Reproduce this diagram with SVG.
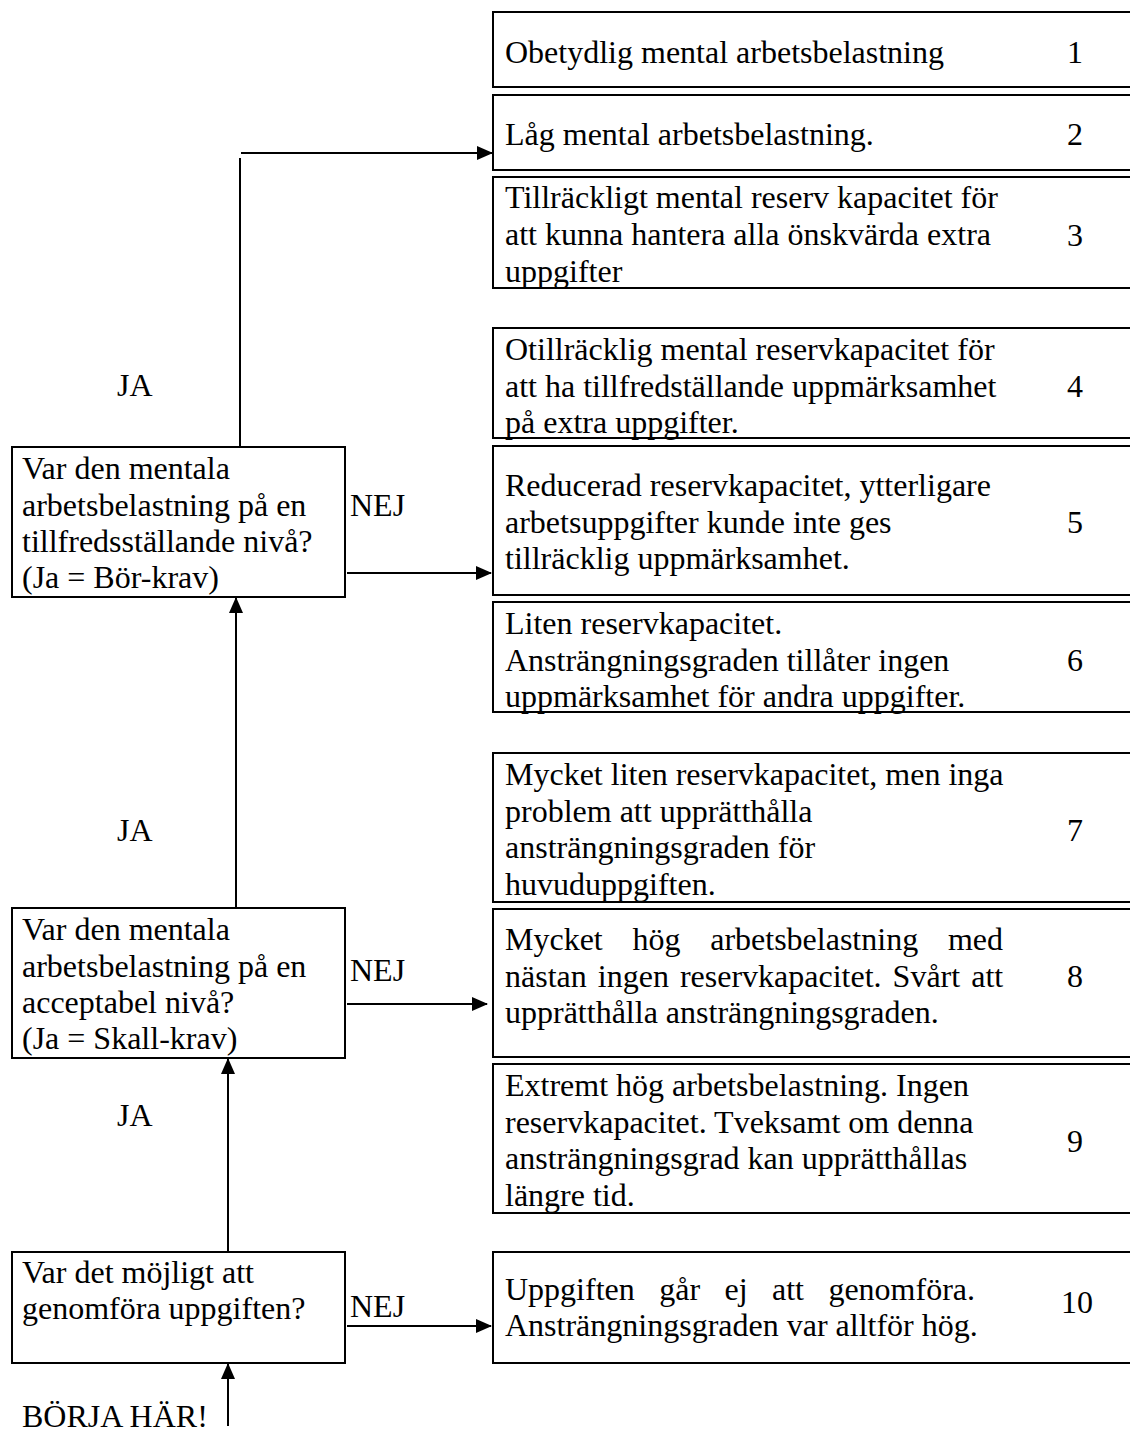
<svg xmlns="http://www.w3.org/2000/svg" width="1130" height="1434" viewBox="0 0 1130 1434">
<style>
text{font-family:"Liberation Serif","Times New Roman",serif;font-size:32px;fill:#000}
.box{fill:none;stroke:#000;stroke-width:2}
.num{text-anchor:middle}
.con{fill:none;stroke:#000;stroke-width:2}
</style>
<defs>
<marker id="ah" markerUnits="userSpaceOnUse" markerWidth="16" markerHeight="14" refX="15" refY="7" orient="auto">
<path d="M0,0 L16,7 L0,14 Z" fill="#000"/>
</marker>
</defs>
<rect width="1130" height="1434" fill="#fff"/>

<g id="connectors">
<line class="con" x1="240" y1="447" x2="240" y2="158"/>
<line class="con" x1="241" y1="153" x2="492" y2="153" marker-end="url(#ah)"/>
<line class="con" x1="347" y1="573" x2="491" y2="573" marker-end="url(#ah)"/>
<line class="con" x1="236" y1="908" x2="236" y2="598" marker-end="url(#ah)"/>
<line class="con" x1="347" y1="1004" x2="487" y2="1004" marker-end="url(#ah)"/>
<line class="con" x1="228" y1="1252" x2="228" y2="1059" marker-end="url(#ah)"/>
<line class="con" x1="347" y1="1326" x2="491" y2="1326" marker-end="url(#ah)"/>
<line class="con" x1="228" y1="1426" x2="228" y2="1364" marker-end="url(#ah)"/>
</g>

<g id="labels">
<text x="117" y="396">JA</text>
<text x="117" y="841">JA</text>
<text x="117" y="1126">JA</text>
<text x="350" y="516">NEJ</text>
<text x="350" y="981">NEJ</text>
<text x="350" y="1317">NEJ</text>
<text x="22" y="1427">BÖRJA HÄR!</text>
</g>

<g id="q1">
<rect class="box" x="12" y="1252" width="333" height="111"/>
<text x="22" y="1283">Var det möjligt att</text>
<text x="22" y="1319">genomföra uppgiften?</text>
</g>
<g id="q2">
<rect class="box" x="12" y="908" width="333" height="150"/>
<text x="22" y="940">Var den mentala</text>
<text x="22" y="977">arbetsbelastning på en</text>
<text x="22" y="1013">acceptabel nivå?</text>
<text x="22" y="1049">(Ja = Skall-krav)</text>
</g>
<g id="q3">
<rect class="box" x="12" y="447" width="333" height="150"/>
<text x="22" y="479">Var den mentala</text>
<text x="22" y="516">arbetsbelastning på en</text>
<text x="22" y="552">tillfredsställande nivå?</text>
<text x="22" y="588">(Ja = Bör-krav)</text>
</g>

<g id="r1">
<rect class="box" x="493" y="12" width="650" height="75"/>
<text x="505" y="63">Obetydlig mental arbetsbelastning</text>
<text class="num" x="1075" y="63">1</text>
</g>
<g id="r2">
<rect class="box" x="493" y="95" width="650" height="75"/>
<text x="505" y="145">Låg mental arbetsbelastning.</text>
<text class="num" x="1075" y="145">2</text>
</g>
<g id="r3">
<rect class="box" x="493" y="177" width="650" height="111"/>
<text x="505" y="208">Tillräckligt mental reserv kapacitet för</text>
<text x="505" y="245">att kunna hantera alla önskvärda extra</text>
<text x="505" y="282">uppgifter</text>
<text class="num" x="1075" y="246">3</text>
</g>
<g id="r4">
<rect class="box" x="493" y="328" width="650" height="110"/>
<text x="505" y="360">Otillräcklig mental reservkapacitet för</text>
<text x="505" y="397">att ha tillfredställande uppmärksamhet</text>
<text x="505" y="433">på extra uppgifter.</text>
<text class="num" x="1075" y="397">4</text>
</g>
<g id="r5">
<rect class="box" x="493" y="446" width="650" height="149"/>
<text x="505" y="496">Reducerad reservkapacitet, ytterligare</text>
<text x="505" y="533">arbetsuppgifter kunde inte ges</text>
<text x="505" y="569">tillräcklig uppmärksamhet.</text>
<text class="num" x="1075" y="533">5</text>
</g>
<g id="r6">
<rect class="box" x="493" y="602" width="650" height="110"/>
<text x="505" y="634">Liten reservkapacitet.</text>
<text x="505" y="671">Ansträngningsgraden tillåter ingen</text>
<text x="505" y="707">uppmärksamhet för andra uppgifter.</text>
<text class="num" x="1075" y="671">6</text>
</g>
<g id="r7">
<rect class="box" x="493" y="753" width="650" height="149"/>
<text x="505" y="785">Mycket liten reservkapacitet, men inga</text>
<text x="505" y="822">problem att upprätthålla</text>
<text x="505" y="858">ansträngningsgraden för</text>
<text x="505" y="895">huvuduppgiften.</text>
<text class="num" x="1075" y="841">7</text>
</g>
<g id="r8">
<rect class="box" x="493" y="909" width="650" height="148"/>
<text y="950"><tspan x="505">Mycket</tspan><tspan x="632.5">hög</tspan><tspan x="710.2">arbetsbelastning</tspan><tspan x="947.9">med</tspan></text>
<text y="987"><tspan x="505">nästan</tspan><tspan x="597.8">ingen</tspan><tspan x="679.9">reservkapacitet.</tspan><tspan x="892.6">Svårt</tspan><tspan x="971.2">att</tspan></text>
<text x="505" y="1023">upprätthålla ansträngningsgraden.</text>
<text class="num" x="1075" y="987">8</text>
</g>
<g id="r9">
<rect class="box" x="493" y="1064" width="650" height="149"/>
<text x="505" y="1096">Extremt hög arbetsbelastning. Ingen</text>
<text x="505" y="1133">reservkapacitet. Tveksamt om denna</text>
<text x="505" y="1169">ansträngningsgrad kan upprätthållas</text>
<text x="505" y="1206">längre tid.</text>
<text class="num" x="1075" y="1152">9</text>
</g>
<g id="r10">
<rect class="box" x="493" y="1252" width="650" height="111"/>
<text y="1300"><tspan x="505">Uppgiften</tspan><tspan x="659.2">går</tspan><tspan x="724.5">ej</tspan><tspan x="772">att</tspan><tspan x="828.4">genomföra.</tspan></text>
<text x="505" y="1336">Ansträngningsgraden var alltför hög.</text>
<text class="num" x="1077" y="1313">10</text>
</g>
</svg>
